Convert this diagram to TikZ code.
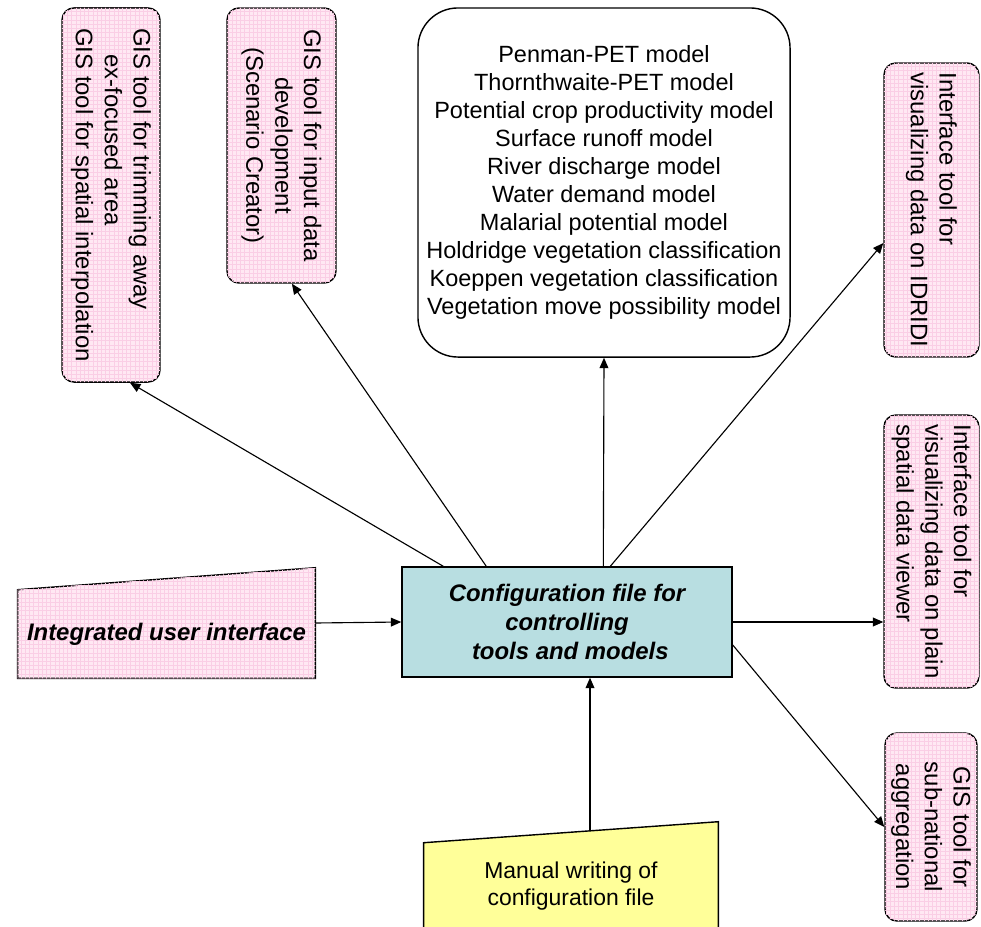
\documentclass[tikz,border=0pt]{standalone}
\usepackage{fontspec}
\setmainfont{Liberation Sans}
\usetikzlibrary{arrows.meta,positioning,patterns,backgrounds}

\definecolor{toolpink}{RGB}{255,232,243}
\definecolor{gridpink}{RGB}{250,206,229}
\definecolor{cfgcyan}{RGB}{184,222,225}
\definecolor{manyellow}{RGB}{255,255,153}

\begin{document}
\begin{tikzpicture}[x=0.025cm,y=-0.025cm]
\useasboundingbox (0,0) rectangle (981,927);
\clip (0,0) rectangle (981,927);
\tikzstyle{tool}=[draw, rounded corners=0.3cm, line width=1pt, fill=toolpink,
  postaction={pattern=grid, pattern color=gridpink}, rotate=-90,
  inner sep=0pt, font=\fontsize{17}{20.5}\selectfont]
\tikzstyle{comic}=[font=\fontsize{17}{20.5}\selectfont\bfseries\itshape, align=center]
\tikzstyle{link}=[-{Triangle[length=2.6mm,width=2.2mm]}, line width=0.8pt]

% tools round the configuration file
\node[tool, minimum width=9.35cm, minimum height=2.45cm, align=left] (trim) at (111,195)
  {GIS tool for trimming away\\\hspace*{0.65cm}ex-focused area\\GIS tool for spatial interpolation};
\node[tool, minimum width=6.875cm, minimum height=2.725cm, align=center] (input) at (281.5,145.5)
  {GIS tool for input data\\development\\(Scenario Creator)};
\node[draw, rounded corners=1cm, line width=1pt, fill=white, minimum width=9.3cm,
  minimum height=8.725cm, align=center, font=\fontsize{16.7}{19.9}\selectfont] (models) at (604,182.5)
  {Penman-PET model\\Thornthwaite-PET model\\Potential crop productivity model\\
   Surface runoff model\\River discharge model\\Water demand model\\Malarial potential model\\
   Holdridge vegetation classification\\Koeppen vegetation classification\\
   Vegetation move possibility model};
\node[tool, minimum width=7.35cm, minimum height=2.375cm, align=left] (idridi) at (931.5,210)
  {Interface tool for\\visualizing data on IDRIDI};
\node[tool, minimum width=6.825cm, minimum height=2.375cm, align=left] (viewer) at (931.5,551.5)
  {Interface tool for\\visualizing data on plain\\spatial data viewer};
\node[tool, minimum width=4.7cm, minimum height=2.3cm, align=center] (aggr) at (931,827)
  {GIS tool for\\sub-national\\aggregation};

% centre and inputs
\node[draw, line width=1pt, fill=cfgcyan, minimum width=8.25cm, minimum height=2.75cm,
  comic] (cfg) at (567,622)
  {Configuration file for\\controlling\\\ tools and models};
\node[comic, minimum width=7.425cm, minimum height=2.2cm, inner sep=0pt] (ui) at (166.5,634)
  {Integrated user interface};
\node[align=center, minimum width=7.35cm, minimum height=3.2cm,
  font=\fontsize{16.3}{19.5}\selectfont] (man) at (571,886)
  {Manual writing of\\configuration file};
\begin{scope}[on background layer]
\draw[line width=1pt, fill=toolpink, postaction={pattern=grid, pattern color=gridpink}]
  (ui.south west) -- (ui.south east) -- ([yshift=0.55cm]ui.north east) -- (ui.north west) -- cycle;
\draw[line width=1pt, fill=manyellow]
  ([yshift=-0.525cm]man.north west) -- (man.north east) -- (man.south east) -- (man.south west) -- cycle;
\end{scope}

\draw[link] ([xshift=1.05cm]cfg.north west) -- ([xshift=0.475cm]trim.east);
\draw[link] ([xshift=2.125cm]cfg.north west) -- ([xshift=0.26cm]input.east);
\draw[link] ([xshift=5.05cm]cfg.north west) -- (models.south);
\draw[link] ([xshift=5.225cm]cfg.north west) -- ([yshift=-0.825cm]idridi.south);
\draw[link] (cfg.east) -- (cfg.east -| viewer.south);
\draw[link] ([yshift=-0.575cm]cfg.east) -- (aggr.south);
\draw[link] ([yshift=0.275cm]ui.east) -- (cfg.west);
\coordinate (mtop) at ([xshift=0.475cm,yshift=-0.225cm]man.north);
\draw[link] (mtop) -- (mtop |- cfg.south);
\end{tikzpicture}
\end{document}
